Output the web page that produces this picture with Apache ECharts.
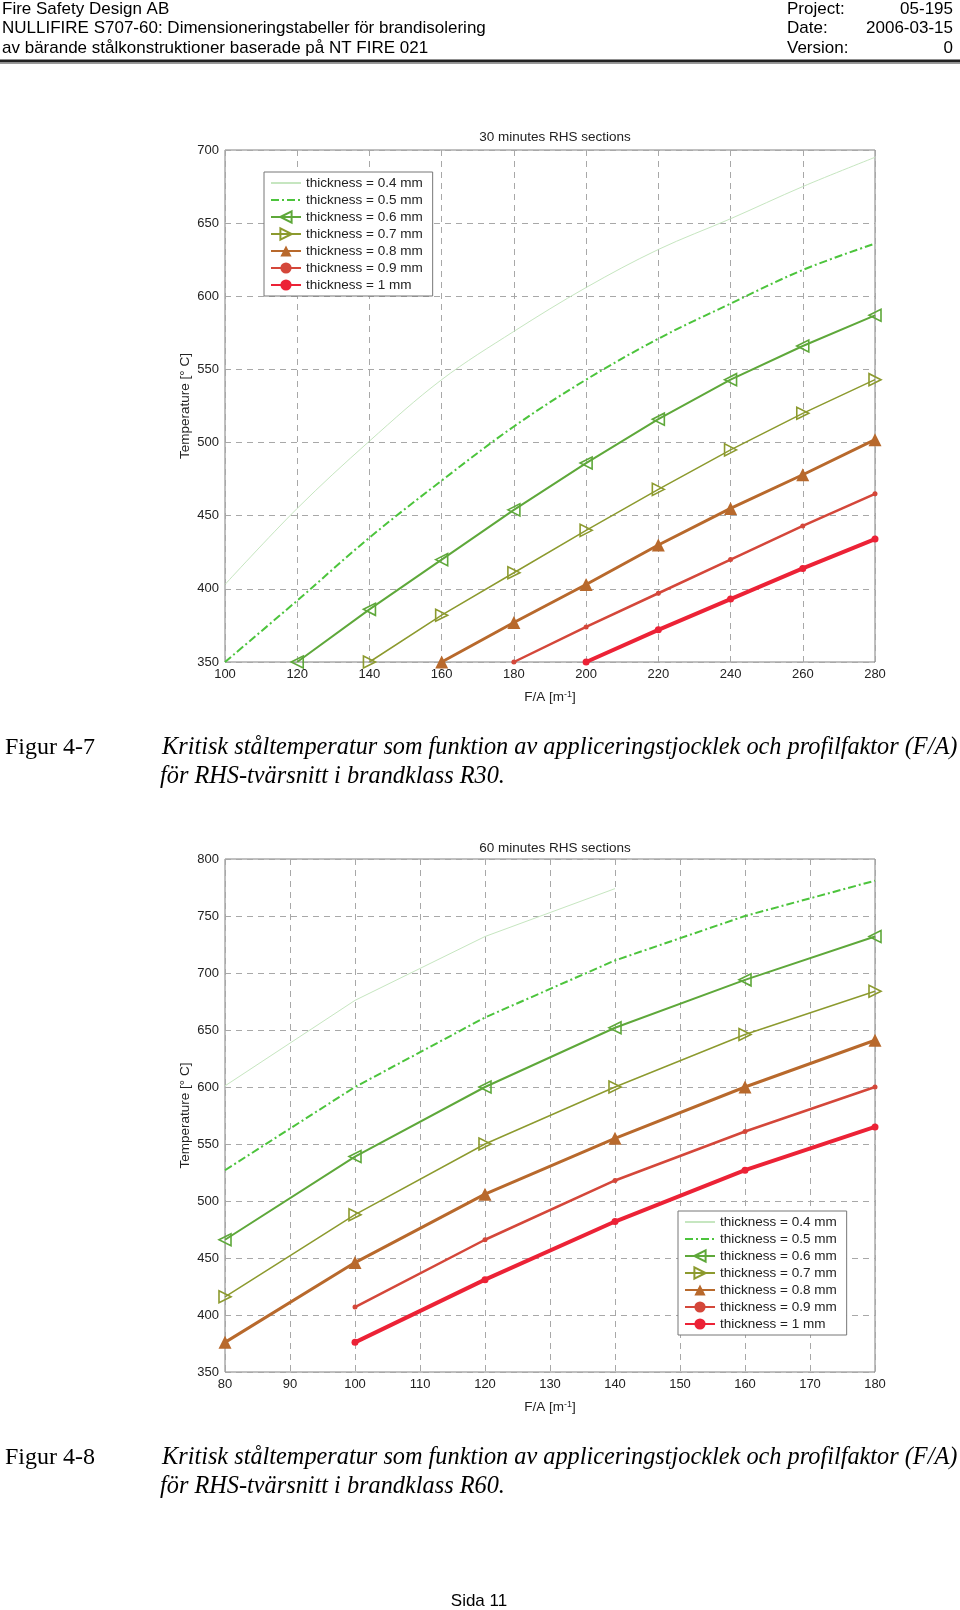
<!DOCTYPE html>
<html>
<head>
<meta charset="utf-8">
<script src="https://cdn.jsdelivr.net/npm/echarts@6/dist/echarts.min.js"></script>
<style>
  html, body { margin: 0; padding: 0; background: #fff; }
  #page { width: 960px; height: 1610px; }
</style>
</head>
<body>
<div id="page"></div>
<script>
// F/A values (x) for the two figures
var fa30 = [100, 120, 140, 160, 180, 200, 220, 240, 260, 280];
var fa60 = [80, 100, 120, 140, 160, 180];

var names = ['thickness = 0.4 mm', 'thickness = 0.5 mm', 'thickness = 0.6 mm',
  'thickness = 0.7 mm', 'thickness = 0.8 mm', 'thickness = 0.9 mm', 'thickness = 1 mm'];

// 30 minutes, critical temperature per thickness (null = no point)
var r30_04 = [403, 455, 501, 543, 576, 606, 632, 653, 675, 695];
var r30_05 = [350, 392, 435, 474, 511, 543, 571, 595, 618, 636];
var r30_06 = [null, 350, 386, 420, 454, 486, 516, 543, 566, 587];
var r30_07 = [null, null, 350, 382, 411, 440, 468, 495, 520, 543];
var r30_08 = [null, null, null, 350, 377, 403, 430, 455, 478, 502];
var r30_09 = [null, null, null, null, 350, 374, 397, 420, 443, 465];
var r30_10 = [null, null, null, null, null, 350, 372, 393, 414, 434];

// 60 minutes
var r60_04 = [601, 676, 732, 774, null, null];
var r60_05 = [527, 600, 661, 711, 750, 781];
var r60_06 = [466, 539, 600, 652, 694, 732];
var r60_07 = [416, 488, 550, 600, 646, 684];
var r60_08 = [376, 446, 506, 555, 600, 641];
var r60_09 = [null, 407, 466, 518, 561, 600];
var r60_10 = [null, 376, 431, 482, 527, 565];

var styles = [
  { color: '#c6e6c0', width: 1, symbol: 'none' },
  { color: '#4cc43c', width: 2, symbol: 'none', type: [8, 3, 2, 3] },
  { color: '#5ea83a', width: 2, symbol: 'triangle', size: 12, rotate: 90, open: true },
  { color: '#8c9a2e', width: 1.5, symbol: 'triangle', size: 12, rotate: -90, open: true },
  { color: '#b8692c', width: 3, symbol: 'triangle', size: 13 },
  { color: '#d4473a', width: 2.5, symbol: 'circle', size: 5 },
  { color: '#ec2236', width: 4, symbol: 'circle', size: 7 }
];

function pairs(xs, ys) {
  var out = [];
  for (var i = 0; i < xs.length; i++) {
    if (ys[i] != null) out.push([xs[i], ys[i]]);
  }
  return out;
}

function makeSeries(idx, xs, rows) {
  return rows.map(function (ys, i) {
    var s = styles[i];
    var fill = s.color;
    if (s.open || s.symbol === 'none') fill = 'rgba(255,255,255,0)';
    return {
      name: names[i],
      type: 'line',
      xAxisIndex: idx,
      yAxisIndex: idx,
      data: pairs(xs, ys),
      symbol: s.symbol === 'none' ? 'circle' : s.symbol,
      symbolSize: s.size || 4,
      symbolRotate: s.rotate || 0,
      showSymbol: s.symbol !== 'none',
      smooth: idx === 0 && i < 2 ? 0.35 : false,
      z: 2 + i,
      silent: true,
      animation: false,
      lineStyle: { color: s.color, width: s.width, type: s.type || 'solid' },
      itemStyle: {
        color: fill,
        borderColor: s.color,
        borderWidth: s.open ? 1.6 : 0
      }
    };
  });
}

var labelFont = { fontFamily: 'Liberation Sans', fontSize: 13, color: '#222' };

function xAxis(idx, min, max, step) {
  return {
    type: 'value', gridIndex: idx, min: min, max: max, interval: step,
    name: 'F/A [m{sup|-1}]', nameLocation: 'middle', nameGap: 28,
    nameTextStyle: {
      fontFamily: 'Liberation Sans', fontSize: 13.5, color: '#222',
      rich: { sup: { fontFamily: 'Liberation Sans', fontSize: 9, verticalAlign: 'top', padding: [0, 0, 6, 0] } }
    },
    axisLine: { show: false },
    axisTick: { show: false },
    axisLabel: Object.assign({ margin: 6 }, labelFont),
    splitLine: { show: true, lineStyle: { color: '#a8a8a8', type: [6, 5], width: 1 } }
  };
}

function yAxis(idx, min, max) {
  return {
    type: 'value', gridIndex: idx, min: min, max: max, interval: 50,
    name: 'Temperature [° C]', nameLocation: 'middle', nameGap: 33,
    nameMoveOverlap: false,
    nameTextStyle: { fontFamily: 'Liberation Sans', fontSize: 13.5, color: '#222' },
    axisLine: { show: false },
    axisTick: { show: false },
    axisLabel: Object.assign({ margin: 6 }, labelFont),
    splitLine: { show: true, lineStyle: { color: '#a8a8a8', type: [6, 5], width: 1 } }
  };
}

function legend(left, top) {
  return {
    data: names,
    orient: 'vertical',
    left: left, top: top,
    itemWidth: 30, itemHeight: 14, itemGap: 3,
    padding: [4, 10, 4, 6],
    backgroundColor: '#fff',
    borderColor: '#777', borderWidth: 1,
    selectedMode: false,
    textStyle: { fontFamily: 'Liberation Sans', fontSize: 13.5, color: '#222' }
  };
}

var capFont = '24px "Liberation Serif"';
var capItal = 'italic 24.3px "Liberation Serif"';

function caption(fig, tail, y) {
  return [
    { type: 'text', left: 5, top: y, style: { text: fig, font: capFont, fill: '#000' } },
    { type: 'text', left: 162, top: y, style: {
      text: 'Kritisk ståltemperatur som funktion av appliceringstjocklek och profilfaktor (F/A)',
      font: capItal, fill: '#000' } },
    { type: 'text', left: 160, top: y + 29, style: { text: tail, font: capItal, fill: '#000' } }
  ];
}

var chart = echarts.init(document.getElementById('page'), null, { renderer: 'canvas' });

var headFont = '17px "Liberation Sans"';
var graphics = [
  { type: 'text', left: 2, top: 1, style: { text: 'Fire Safety Design AB', font: headFont, fill: '#000' } },
  { type: 'text', left: 2, top: 20, style: { text: 'NULLIFIRE S707-60: Dimensioneringstabeller för brandisolering', font: headFont, fill: '#000' } },
  { type: 'text', left: 2, top: 40, style: { text: 'av bärande stålkonstruktioner baserade på NT FIRE 021', font: headFont, fill: '#000' } },
  { type: 'text', left: 787, top: 1, style: { text: 'Project:', font: headFont, fill: '#000' } },
  { type: 'text', left: 787, top: 20, style: { text: 'Date:', font: headFont, fill: '#000' } },
  { type: 'text', left: 787, top: 40, style: { text: 'Version:', font: headFont, fill: '#000' } },
  { type: 'text', right: 7, top: 1, style: { text: '05-195', font: headFont, fill: '#000' } },
  { type: 'text', right: 7, top: 20, style: { text: '2006-03-15', font: headFont, fill: '#000' } },
  { type: 'text', right: 7, top: 40, style: { text: '0', font: headFont, fill: '#000' } },
  { type: 'line', shape: { x1: 0, y1: 61, x2: 960, y2: 61 }, style: { stroke: '#222', lineWidth: 3 } },
  { type: 'line', shape: { x1: 0, y1: 63.5, x2: 960, y2: 63.5 }, style: { stroke: '#999', lineWidth: 1 } },
  { type: 'text', x: 479, y: 1593, style: { text: 'Sida 11', font: headFont, fill: '#000', textAlign: 'center' } }
].concat(caption('Figur 4-7', 'för RHS-tvärsnitt i brandklass R30.', 736))
 .concat(caption('Figur 4-8', 'för RHS-tvärsnitt i brandklass R60.', 1446));

var option = {
  backgroundColor: '#fff',
  animation: false,
  title: [
    { text: '30 minutes RHS sections', left: 550, top: 125, textAlign: 'center',
      textStyle: { fontFamily: 'Liberation Sans', fontSize: 13.5, fontWeight: 'normal', color: '#222' } },
    { text: '60 minutes RHS sections', left: 550, top: 836, textAlign: 'center',
      textStyle: { fontFamily: 'Liberation Sans', fontSize: 13.5, fontWeight: 'normal', color: '#222' } }
  ],
  grid: [
    { left: 225, top: 150, width: 650, height: 512, show: true, borderColor: '#808080', borderWidth: 1, backgroundColor: '#fff' },
    { left: 225, top: 859, width: 650, height: 513, show: true, borderColor: '#808080', borderWidth: 1, backgroundColor: '#fff' }
  ],
  xAxis: [xAxis(0, 100, 280, 20), xAxis(1, 80, 180, 10)],
  yAxis: [yAxis(0, 350, 700), yAxis(1, 350, 800)],
  legend: [legend(264, 172), legend(678, 1211)],
  graphic: graphics,
  series: makeSeries(0, fa30, [r30_04, r30_05, r30_06, r30_07, r30_08, r30_09, r30_10])
    .concat(makeSeries(1, fa60, [r60_04, r60_05, r60_06, r60_07, r60_08, r60_09, r60_10]))
};

chart.setOption(option);
</script>
</body>
</html>
